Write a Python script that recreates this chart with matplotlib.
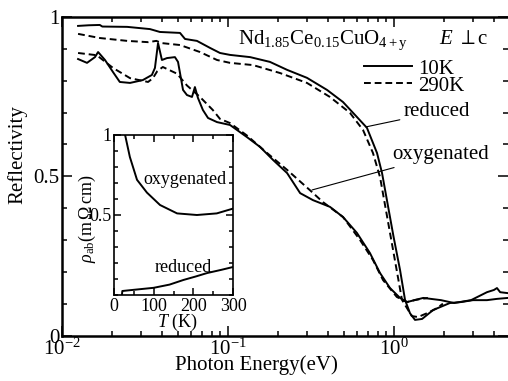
import numpy as np
import matplotlib
matplotlib.use("Agg")
import matplotlib.pyplot as plt
from matplotlib.ticker import MultipleLocator, LogLocator, NullFormatter

plt.rcParams['font.family'] = ['Liberation Serif', 'DejaVu Serif']
plt.rcParams['mathtext.fontset'] = 'custom'
plt.rcParams['mathtext.rm'] = 'Liberation Serif'
plt.rcParams['mathtext.it'] = 'Liberation Serif:italic'
plt.rcParams['mathtext.bf'] = 'Liberation Serif:bold'

# - - - - reflectivity spectra (photon energy in eV) - - - -
e_red_10k = [0.0125, 0.0145, 0.0169, 0.0175, 0.0247, 0.0339, 0.0389, 0.0514, 0.0551,
             0.065, 0.0779, 0.0895, 0.1028, 0.136, 0.179, 0.227, 0.299, 0.395, 0.493,
             0.598, 0.687, 0.79, 0.847, 0.993, 1.087, 1.165, 1.248, 1.338, 1.476, 1.72,
             2.17, 2.53, 2.99, 3.63, 4.17, 4.86]
r_red_10k = [0.972, 0.974, 0.975, 0.970, 0.969, 0.962, 0.953, 0.950, 0.931,
             0.925, 0.903, 0.887, 0.881, 0.874, 0.859, 0.834, 0.809, 0.771, 0.733,
             0.686, 0.652, 0.573, 0.510, 0.311, 0.206, 0.112, 0.070, 0.049, 0.052, 0.080,
             0.102, 0.105, 0.111, 0.111, 0.115, 0.118]

e_red_290k = [0.0125, 0.0169, 0.0247, 0.033, 0.037, 0.04, 0.0514, 0.0678, 0.0859,
              0.1028, 0.1416, 0.206, 0.299, 0.411, 0.543, 0.651, 0.747, 0.824, 0.959,
              1.117, 1.28, 1.395, 1.58, 1.82, 1.97]
r_red_290k = [0.947, 0.934, 0.925, 0.921, 0.925, 0.918, 0.912, 0.890, 0.865,
              0.856, 0.849, 0.824, 0.793, 0.749, 0.699, 0.645, 0.573, 0.497, 0.305,
              0.112, 0.061, 0.058, 0.070, 0.086, 0.100]

e_oxy_10k = [0.0125, 0.01415, 0.0158, 0.0165, 0.01816, 0.0203, 0.0223, 0.0257, 0.0307,
             0.0348, 0.0363, 0.0379, 0.0400, 0.0429, 0.0479, 0.0500, 0.0536, 0.0566,
             0.0607, 0.0632, 0.0659, 0.0706, 0.0758, 0.0859, 0.1028, 0.130, 0.156,
             0.187, 0.227, 0.272, 0.325, 0.411, 0.493, 0.598, 0.716, 0.824, 0.946,
             1.087, 1.197, 1.50, 1.92, 2.30, 2.91, 3.63, 4.0, 4.17, 4.36, 4.86]
r_oxy_10k = [0.868, 0.856, 0.874, 0.890, 0.865, 0.827, 0.796, 0.793, 0.802,
             0.818, 0.840, 0.918, 0.865, 0.871, 0.874, 0.859, 0.771, 0.755,
             0.749, 0.780, 0.746, 0.708, 0.683, 0.670, 0.661, 0.623, 0.592,
             0.551, 0.510, 0.447, 0.425, 0.404, 0.372, 0.322, 0.259, 0.196, 0.149,
             0.118, 0.105, 0.118, 0.111, 0.102, 0.111, 0.136, 0.143, 0.149, 0.136, 0.133]

e_oxy_290k = [0.0125, 0.0162, 0.0203, 0.0257, 0.033, 0.0353, 0.0375, 0.0405, 0.0493,
              0.0566, 0.0678, 0.081, 0.0895, 0.1028, 0.130, 0.172, 0.227, 0.312,
              0.373, 0.493, 0.624, 0.747, 0.859, 1.04, 1.197, 1.35, 1.6]
r_oxy_290k = [0.887, 0.880, 0.840, 0.808, 0.796, 0.808, 0.830, 0.843, 0.822,
              0.785, 0.749, 0.708, 0.680, 0.667, 0.628, 0.573, 0.520, 0.456,
              0.419, 0.372, 0.300, 0.237, 0.174, 0.121, 0.105, 0.112, 0.118]

# - - - - inset: resistivity vs temperature - - - -
t_oxy = [28, 40, 58, 83, 116, 159, 209, 259, 300]
rho_oxy = [1.0, 0.8625, 0.72, 0.64, 0.5625, 0.51, 0.50, 0.51, 0.54]
t_red = [20, 21, 40, 60, 100, 140, 175, 205, 235, 270, 300]
rho_red = [0.0, 0.025, 0.03, 0.035, 0.045, 0.065, 0.094, 0.115, 0.1375, 0.157, 0.175]

fs = 15
fs_in = 13
lw = 1.4
dash = (3.5, 2.0)


def style_axes(ax, width, major, minor):
    for s in ax.spines.values():
        s.set_linewidth(width)
    ax.tick_params(which='both', direction='in', top=True, right=True, width=1.1)
    ax.tick_params(which='major', length=major)
    ax.tick_params(which='minor', length=minor)


def main():
    fig = plt.figure(figsize=(5.08, 3.81), dpi=100)
    ax = fig.add_axes([0.122, 0.1194, 0.878, 0.836])

    l1, = ax.plot(e_red_10k, r_red_10k, color='black', lw=lw)
    l2, = ax.plot(e_red_290k, r_red_290k, color='black', lw=lw, ls='--', dashes=dash)
    ax.plot(e_oxy_10k, r_oxy_10k, color='black', lw=lw)
    ax.plot(e_oxy_290k, r_oxy_290k, color='black', lw=lw, ls='--', dashes=dash)

    ax.set_xscale('log')
    ax.set_xlim(0.01, 4.86)
    ax.set_ylim(0, 1)
    ax.set_yticks([0, 0.5, 1])
    ax.set_yticklabels(['0', '0.5', '1'])
    ax.yaxis.set_minor_locator(MultipleLocator(0.1))
    ax.xaxis.set_minor_locator(LogLocator(base=10, subs=np.arange(2, 10)))
    ax.xaxis.set_minor_formatter(NullFormatter())
    style_axes(ax, 1.8, 7, 3.5)
    ax.spines['right'].set_visible(False)
    ax.tick_params(labelsize=fs, pad=2)

    ax.set_xlabel('Photon Energy(eV)', fontsize=fs, va='center')
    ax.xaxis.set_label_coords(0.435, -0.093)
    ax.set_ylabel('Reflectivity', fontsize=fs, va='center')
    ax.yaxis.set_label_coords(-0.099, 0.567)

    ax.text(0.395, 0.928, r'Nd$_{\rm 1.85}$Ce$_{\rm 0.15}$CuO$_{\rm 4+y}$',
            transform=ax.transAxes, fontsize=fs, ha='left', va='center')
    ax.text(0.845, 0.928, r'$E$ $\perp$c', transform=ax.transAxes,
            fontsize=fs, ha='left', va='center')

    ax.legend([l1, l2], ['10K', '290K'], loc='upper left',
              bbox_to_anchor=(0.677, 0.868), frameon=False, fontsize=fs,
              borderpad=0, borderaxespad=0, handlelength=2.3,
              handletextpad=0.3, labelspacing=-0.12)

    ax.annotate('reduced', xy=(0.678, 0.655), xytext=(1.148, 0.702),
                fontsize=fs, ha='left', va='center',
                arrowprops=dict(arrowstyle='-', lw=0.8, color='black',
                                shrinkA=1, shrinkB=0))
    ax.annotate('oxygenated', xy=(0.321, 0.457), xytext=(0.973, 0.567),
                fontsize=fs, ha='left', va='center',
                arrowprops=dict(arrowstyle='-', lw=0.8, color='black',
                                shrinkA=1, shrinkB=0))

    # inset
    axi = fig.add_axes([0.2244, 0.2257, 0.2343, 0.42])
    axi.plot(t_oxy, rho_oxy, color='black', lw=lw)
    axi.plot(t_red, rho_red, color='black', lw=lw)
    axi.set_xlim(0, 300)
    axi.set_ylim(0, 1)
    axi.set_xticks([0, 100, 200, 300])
    axi.set_yticks([0.5, 1])
    axi.set_yticklabels(['0.5', '1'])
    axi.xaxis.set_minor_locator(MultipleLocator(50))
    axi.yaxis.set_minor_locator(MultipleLocator(0.1))
    style_axes(axi, 1.2, 5, 3)
    axi.tick_params(labelsize=fs_in, pad=2)
    axi.set_xlabel(r'$T$ (K)', fontsize=fs_in, va='center')
    axi.xaxis.set_label_coords(0.53, -0.17)
    axi.set_ylabel(r'$\rho_{\rm ab}$(m$\,\Omega\,$cm)', fontsize=fs_in, va='center')
    axi.yaxis.set_label_coords(-0.227, 0.475)
    axi.text(179, 0.72, 'oxygenated', fontsize=fs_in, ha='center', va='center')
    axi.text(174, 0.175, 'reduced', fontsize=fs_in, ha='center', va='center')

    fig.savefig('out.png', dpi=100)


if __name__ == '__main__':
    main()
